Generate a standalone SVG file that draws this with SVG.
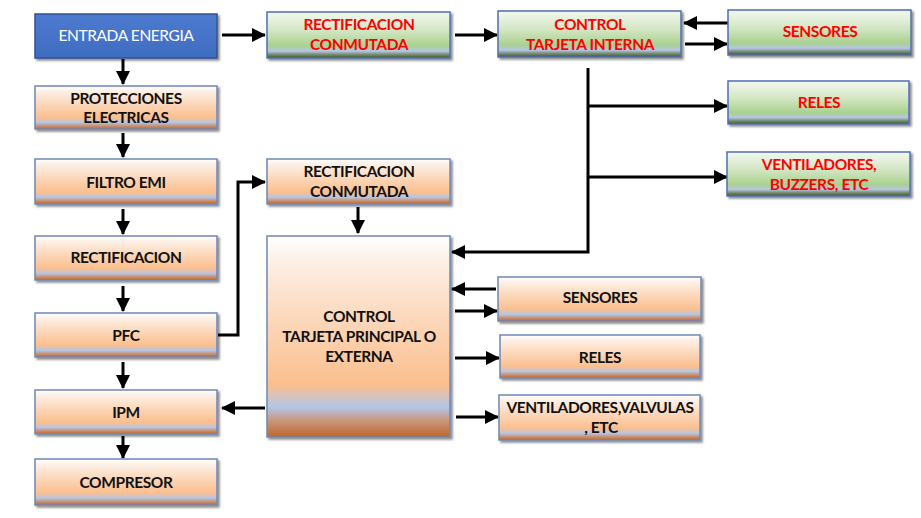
<svg xmlns="http://www.w3.org/2000/svg" width="921" height="518" viewBox="0 0 921 518">
<defs>
<linearGradient id="gO" x1="0" y1="0" x2="0" y2="1">
<stop offset="0" stop-color="#ffffff"/>
<stop offset="0.12" stop-color="#fdf0e6"/>
<stop offset="0.45" stop-color="#fcd5b6"/>
<stop offset="0.74" stop-color="#fbbf8e"/>
<stop offset="0.85" stop-color="#b4c6e7"/>
<stop offset="0.92" stop-color="#c8967a"/>
<stop offset="1" stop-color="#c0662c"/>
</linearGradient>
<linearGradient id="gG" x1="0" y1="0" x2="0" y2="1">
<stop offset="0" stop-color="#f4f8f0"/>
<stop offset="0.4" stop-color="#d3e6c4"/>
<stop offset="0.74" stop-color="#a9d18e"/>
<stop offset="0.85" stop-color="#b4c6e7"/>
<stop offset="0.92" stop-color="#7c8f76"/>
<stop offset="1" stop-color="#3a5a26"/>
</linearGradient>
<linearGradient id="gB" x1="0" y1="0" x2="0" y2="1">
<stop offset="0" stop-color="#4d7bd0"/>
<stop offset="1" stop-color="#3f6cc0"/>
</linearGradient>
<filter id="sh" x="-10%" y="-10%" width="120%" height="130%">
<feDropShadow dx="2" dy="2" stdDeviation="1.2" flood-color="#000" flood-opacity="0.45"/>
</filter>
<marker id="ah" markerUnits="userSpaceOnUse" markerWidth="14" markerHeight="14" viewBox="0 0 14 14" refX="13" refY="7" orient="auto">
<path d="M0,0 L14,7 L0,14 Z" fill="#000"/>
</marker>
</defs>
<style>
.o{fill:url(#gO);stroke:#6f86b8;stroke-width:1.5;filter:url(#sh)}
.g{fill:url(#gG);stroke:#4f6fb5;stroke-width:1.5;filter:url(#sh)}
.b{fill:url(#gB);stroke:#2f528f;stroke-width:1.5;filter:url(#sh)}
text{font-family:Lato,"Liberation Sans",sans-serif;font-size:15.5px;font-weight:700;letter-spacing:-0.4px;text-anchor:middle}
.tb{fill:#111}
.tr{fill:#ff0000}
.tw{fill:#ffffff;font-weight:400}
.c{fill:none;stroke:#000;stroke-width:3}
.ca{fill:none;stroke:#000;stroke-width:3;marker-end:url(#ah)}
</style>
<rect width="921" height="518" fill="#fff"/>
<g id="connectors">
<line class="ca" x1="123" y1="59" x2="123" y2="84"/>
<line class="ca" x1="123" y1="133" x2="123" y2="157"/>
<line class="ca" x1="123" y1="209" x2="123" y2="234"/>
<line class="ca" x1="123" y1="286" x2="123" y2="311"/>
<line class="ca" x1="123" y1="362" x2="123" y2="388"/>
<line class="ca" x1="123" y1="436" x2="123" y2="458"/>
<line class="ca" x1="222" y1="35" x2="265" y2="35"/>
<line class="ca" x1="455" y1="35" x2="497" y2="35"/>
<line class="ca" x1="728" y1="23" x2="684" y2="23"/>
<line class="ca" x1="685" y1="44" x2="727" y2="44"/>
<polyline class="ca" points="588,68 588,252 452,252"/>
<line class="ca" x1="588" y1="106" x2="727" y2="106"/>
<line class="ca" x1="588" y1="177" x2="727" y2="177"/>
<polyline class="ca" points="218,335 238,335 238,182 265,182"/>
<line class="ca" x1="358" y1="207" x2="358" y2="233"/>
<line class="ca" x1="265" y1="408" x2="222" y2="408"/>
<line class="ca" x1="496" y1="289" x2="452" y2="289"/>
<line class="ca" x1="455" y1="311" x2="497" y2="311"/>
<line class="ca" x1="455" y1="358" x2="499" y2="358"/>
<line class="ca" x1="456" y1="417" x2="498" y2="417"/>
</g>
<g id="entrada"><rect class="b" x="35" y="14" width="182" height="44"/><text class="tw" x="126" y="41">ENTRADA ENERGIA</text></g>
<g id="protecciones"><rect class="o" x="35" y="86" width="182" height="43"/><text class="tb" x="126" y="104">PROTECCIONES</text><text class="tb" x="126" y="123">ELECTRICAS</text></g>
<g id="filtro"><rect class="o" x="35" y="159" width="182" height="45"/><text class="tb" x="126" y="188">FILTRO EMI</text></g>
<g id="rectificacion"><rect class="o" x="35" y="236" width="182" height="44"/><text class="tb" x="126" y="263">RECTIFICACION</text></g>
<g id="pfc"><rect class="o" x="35" y="313" width="182" height="44"/><text class="tb" x="126" y="341">PFC</text></g>
<g id="ipm"><rect class="o" x="35" y="390" width="182" height="44"/><text class="tb" x="126" y="418">IPM</text></g>
<g id="compresor"><rect class="o" x="35" y="459" width="182" height="46"/><text class="tb" x="126" y="488">COMPRESOR</text></g>
<g id="rect-conm-top"><rect class="g" x="267" y="12" width="183" height="46"/><text class="tr" x="359" y="30">RECTIFICACION</text><text class="tr" x="359" y="50">CONMUTADA</text></g>
<g id="control-interna"><rect class="g" x="498" y="11" width="183" height="46"/><text class="tr" x="590" y="30">CONTROL</text><text class="tr" x="590" y="50">TARJETA INTERNA</text></g>
<g id="sensores-top"><rect class="g" x="728" y="10" width="183" height="45"/><text class="tr" x="820" y="37">SENSORES</text></g>
<g id="reles-top"><rect class="g" x="728" y="81" width="181" height="43"/><text class="tr" x="819" y="108">RELES</text></g>
<g id="ventiladores-top"><rect class="g" x="727" y="152" width="183" height="44"/><text class="tr" x="819" y="170">VENTILADORES,</text><text class="tr" x="819" y="190">BUZZERS, ETC</text></g>
<g id="rect-conm-low"><rect class="o" x="267" y="159" width="183" height="45"/><text class="tb" x="359" y="177">RECTIFICACION</text><text class="tb" x="359" y="197">CONMUTADA</text></g>
<g id="control-principal"><rect class="o" x="267" y="236" width="183" height="201"/><text class="tb" x="359" y="322">CONTROL</text><text class="tb" x="359" y="342">TARJETA PRINCIPAL O</text><text class="tb" x="359" y="362">EXTERNA</text></g>
<g id="sensores-low"><rect class="o" x="498" y="277" width="203" height="44"/><text class="tb" x="600" y="303">SENSORES</text></g>
<g id="reles-low"><rect class="o" x="500" y="335" width="200" height="43"/><text class="tb" x="600" y="363">RELES</text></g>
<g id="ventiladores-low"><rect class="o" x="499" y="395" width="201" height="45"/><text class="tb" x="600" y="413">VENTILADORES,VALVULAS</text><text class="tb" x="601" y="433">, ETC</text></g>
</svg>
